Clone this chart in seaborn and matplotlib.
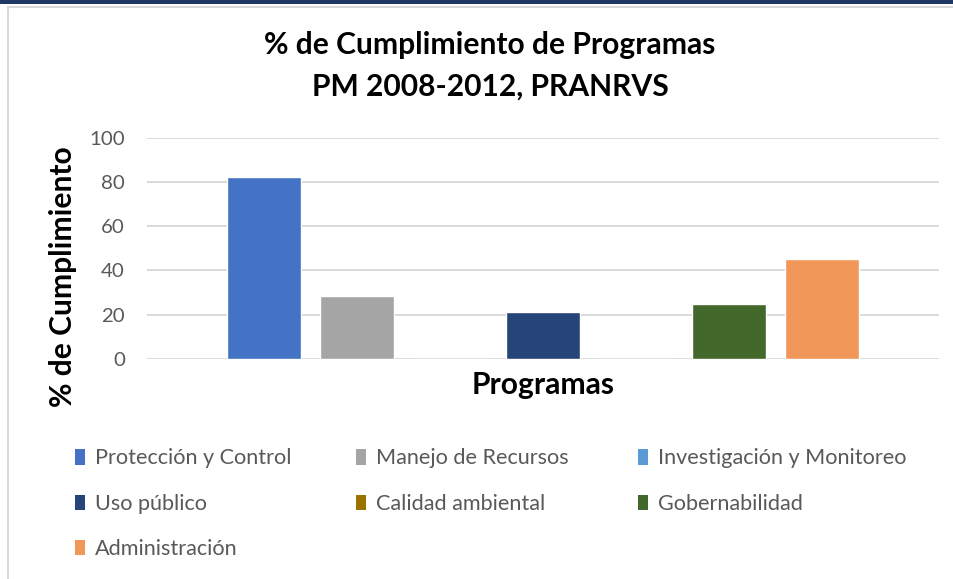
import matplotlib
matplotlib.use("Agg")
import matplotlib.pyplot as plt
import seaborn as sns
import pandas as pd
from matplotlib.patches import Rectangle, Patch
from matplotlib.lines import Line2D

programas = ["Protección y Control", "Manejo de Recursos", "Investigación y Monitoreo",
             "Uso público", "Calidad ambiental", "Gobernabilidad", "Administración"]
valores = [82.1, 28.5, 0, 21.2, 0, 24.9, 45.2]
colores = ["#4472C4", "#A5A5A5", "#5B9BD5", "#264478", "#997300", "#43682B", "#F1975A"]
yticks = [0, 20, 40, 60, 80, 100]
titulo = "% de Cumplimiento de Programas\nPM 2008-2012, PRANRVS"
xlabel = "Programas"
ylabel = "% de Cumplimiento"

sns.set_theme(style="white")
plt.rcParams['font.family'] = ['Lato', 'DejaVu Sans']

W, H = 954, 579
df = pd.DataFrame({"Programas": [""] * len(programas), "Programa": programas, "Cumplimiento": valores})

fig = plt.figure(figsize=(W / 100, H / 100), dpi=100)
fig.patch.set_facecolor("white")

# frame decorations
fig.patches.append(Rectangle((0, 1 - 4 / H), 1, 4 / H, transform=fig.transFigure,
                             facecolor="#203864", edgecolor="none", zorder=0))
fig.add_artist(Line2D([8 / W, 1], [1 - 7 / H, 1 - 7 / H], color="#D9D9D9", lw=1.5,
                      transform=fig.transFigure))
fig.add_artist(Line2D([8 / W, 8 / W], [0, 1 - 7 / H], color="#D9D9D9", lw=1.5,
                      transform=fig.transFigure))

ax = fig.add_axes([147 / W, 1 - 359 / H, 792 / W, (359 - 137.7) / H])
sns.barplot(data=df, x="Programas", y="Cumplimiento", hue="Programa", hue_order=programas,
            palette=colores, width=0.822, gap=0.21, saturation=1, errorbar=None,
            legend=False, ax=ax)
ax.set_xlim(-0.5, 0.5)
ax.set_ylim(0, 100)
ax.set_yticks(yticks)
ax.set_yticklabels([str(t) for t in yticks])
ax.set_xticks([])
ax.yaxis.grid(True, color="#D9D9D9", lw=1.4)
ax.set_axisbelow(True)
for s in ax.spines.values():
    s.set_visible(False)
ax.tick_params(axis="y", length=0, pad=16, labelsize=14.7, labelcolor="#595959")
ax.set_xlabel("")
ax.set_ylabel("")

fig.text(490 / W, 1 - 66 / H, titulo, ha="center", va="center", fontsize=21.6,
         fontweight="bold", color="black", linespacing=1.58)
fig.text(63 / W, 1 - 277 / H, ylabel, rotation=90, ha="center", va="center",
         fontsize=21.6, fontweight="bold", color="black")
fig.text(543 / W, 1 - 385 / H, xlabel, ha="center", va="center",
         fontsize=21.6, fontweight="bold", color="black")

handles = [Patch(facecolor=c, edgecolor="none") for c in colores]
cols = [[0, 3, 6], [1, 4], [2, 5]]
col_x = [75, 356, 638]
for cx, idx in zip(col_x, cols):
    leg = fig.legend([handles[i] for i in idx], [programas[i] for i in idx],
                     loc="upper left", bbox_to_anchor=(cx / W, 1 - 448.5 / H),
                     frameon=False, fontsize=15.6, handlelength=0.47, handleheight=0.7,
                     handletextpad=0.45, labelspacing=1.17, borderpad=0, borderaxespad=0,
                     labelcolor="#595959")

fig.savefig("out.png", dpi=100)
